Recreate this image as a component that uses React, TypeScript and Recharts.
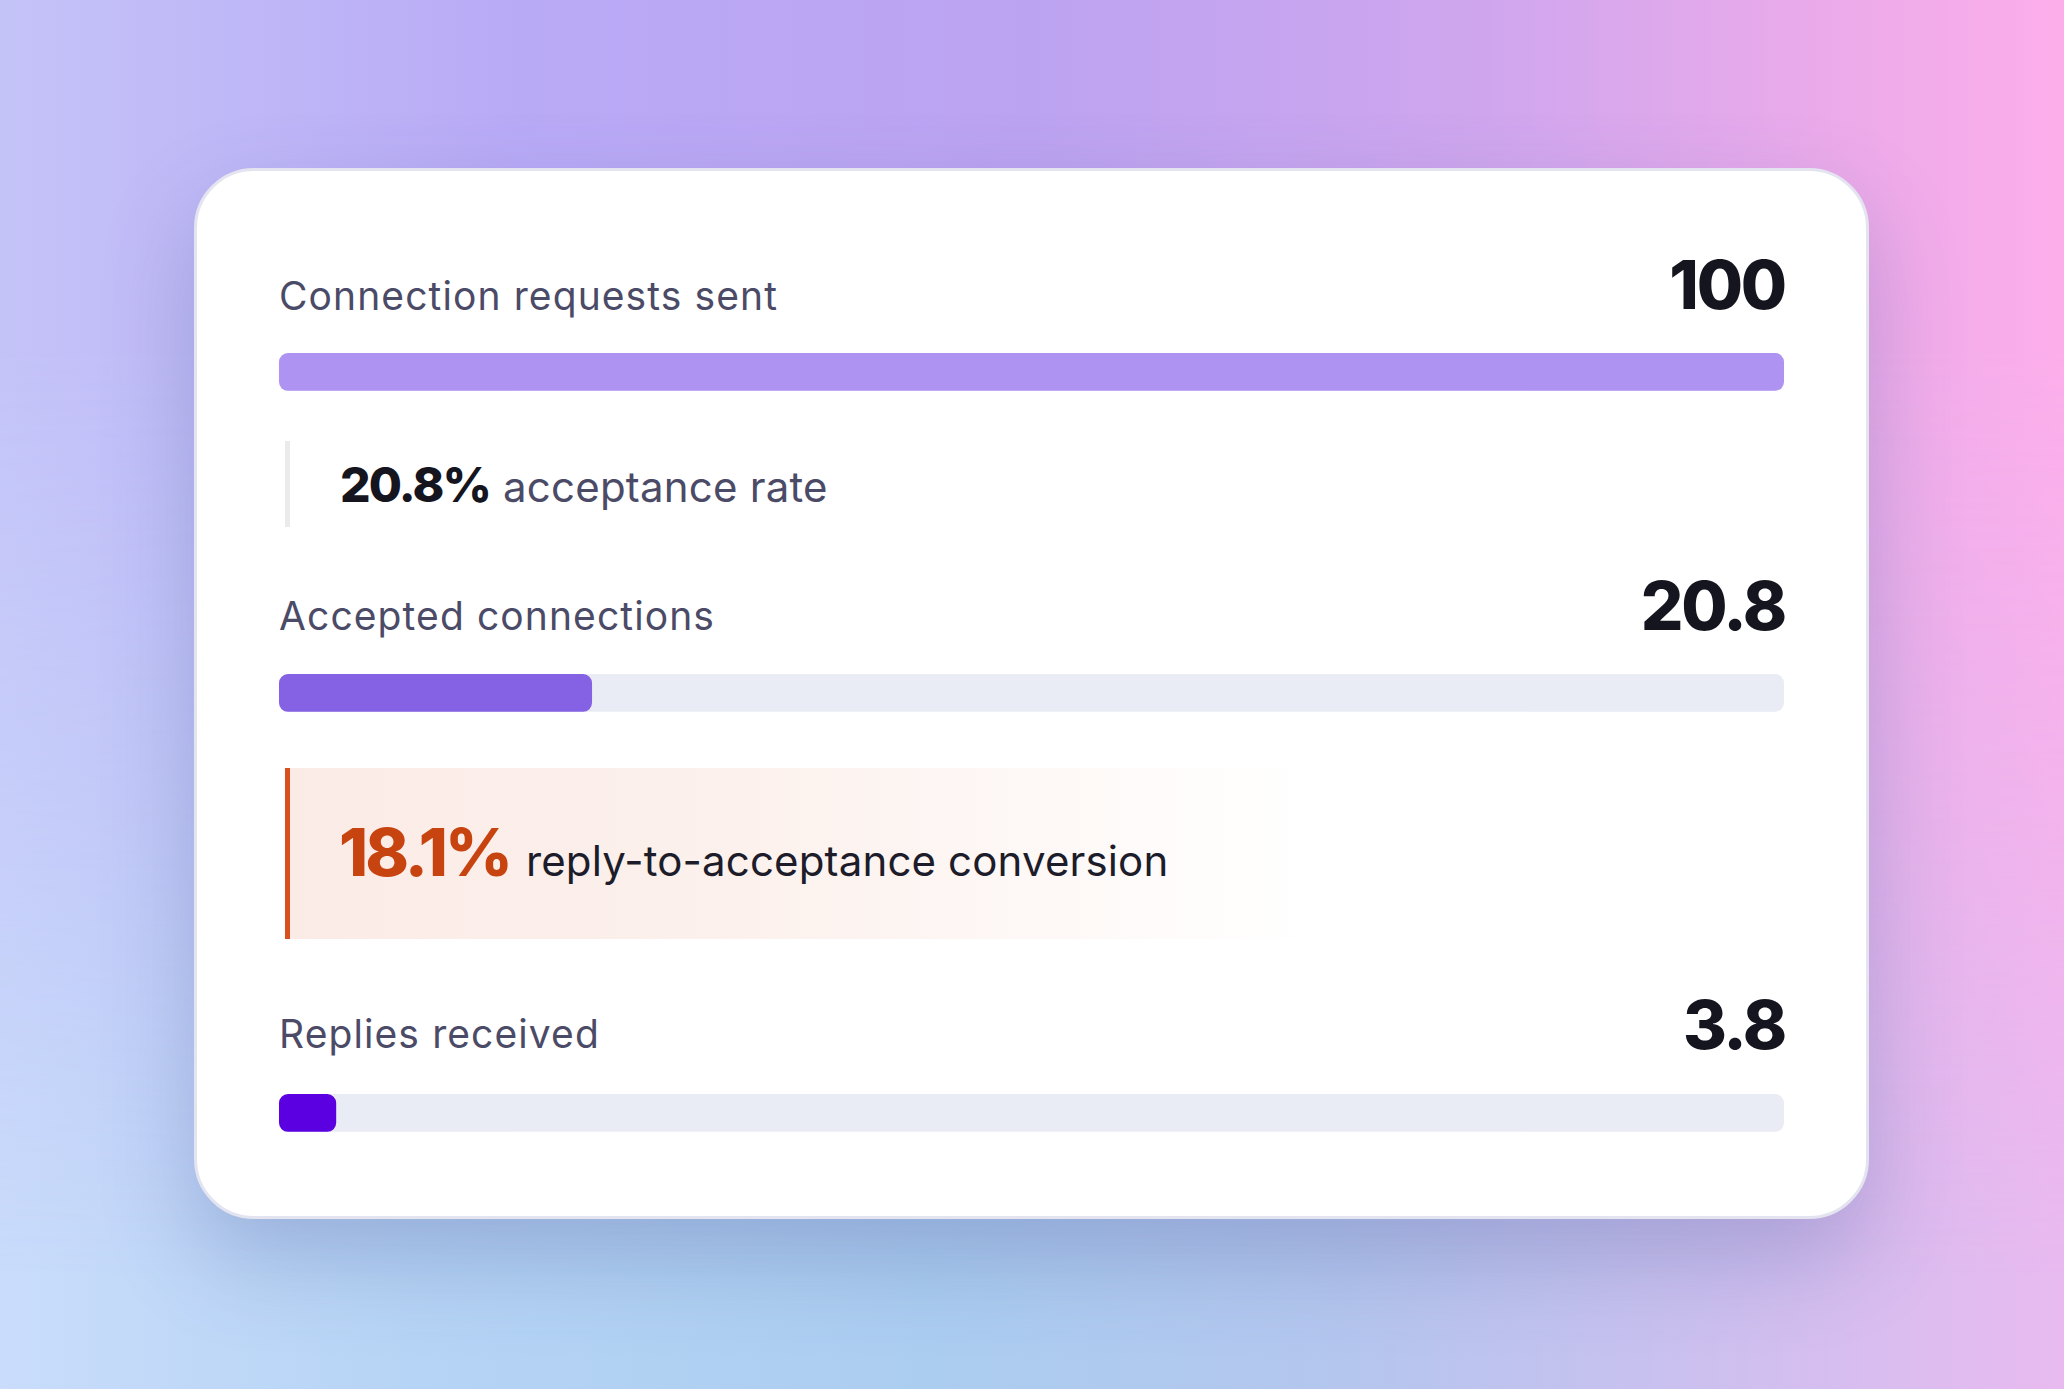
import React from 'react'
import { BarChart, Bar, XAxis, YAxis } from 'recharts'

// funnel stages
const stages = ['Connection requests sent', 'Accepted connections', 'Replies received']
const stageValues = [100, 20.8, 3.8]
const stageValueLabels = ['100', '20.8', '3.8']

// conversion between stages
const rateValues = ['20.8%', '18.1%']
const rateLabels = ['acceptance rate', 'reply-to-acceptance conversion']

const FONT = 'Inter, "Open Sans", sans-serif'
const barColors = ['#ae93f2', '#8562e3', '#5b00e0']
const TRACK = '#eaecf5'

// vertical layout (page px)
const labelTops = [276, 596, 1014]
const valueTops = [251, 572, 991]
const barTops = [351, 672, 1092]

const BAR_LEFT = 279
const BAR_W = 1505
const BAR_H = 42

const StageBar = ({ i }: { i: number }) => {
    const data = [{ name: stages[i], value: stageValues[i] }]
    return (
        <div style={{ position: 'absolute', left: BAR_LEFT, top: barTops[i] }}>
            <BarChart
                width={BAR_W}
                height={BAR_H}
                data={data}
                layout="vertical"
                margin={{ top: 0, right: 0, bottom: 0, left: 0 }}
                barCategoryGap={0}
            >
                <XAxis type="number" domain={[0, 100]} hide />
                <YAxis type="category" dataKey="name" hide />
                <Bar
                    dataKey="value"
                    fill={barColors[i]}
                    barSize={BAR_H}
                    radius={9}
                    background={{ fill: TRACK, radius: 9 }}
                    isAnimationActive={false}
                />
            </BarChart>
        </div>
    )
}

const StageHeader = ({ i }: { i: number }) => (
    <>
        <div style={{
            position: 'absolute', left: BAR_LEFT, top: labelTops[i],
            fontSize: 39, lineHeight: 1, color: '#4b4b67', letterSpacing: 1.1, whiteSpace: 'nowrap'
        }}>
            {stages[i]}
        </div>
        <div style={{
            position: 'absolute', right: 2064 - 1785, top: valueTops[i],
            fontSize: 67, lineHeight: 1, fontWeight: 800, color: '#15151f', textAlign: 'right',
            letterSpacing: -2.2
        }}>
            {stageValueLabels[i]}
        </div>
    </>
)

const App = () => {
    return (
        <div style={{ position: 'fixed', left: 0, top: 0, width: 2064, height: 1389, overflow: 'hidden', fontFamily: FONT }}>
            {/* background */}
            <div style={{
                position: 'absolute', inset: 0,
                background: 'linear-gradient(to right, #c9dcfb 0%, #b6d4f5 20%, #abcdf0 45%, #b4c6ee 65%, #cbc0ef 82%, #e8baf0 100%)'
            }} />
            <div style={{
                position: 'absolute', inset: 0,
                background: 'linear-gradient(to right, #c4c3f8 0%, #b9aaf6 25%, #bca3f1 50%, #cfa6ee 72%, #eaaaea 88%, #fcaeea 100%)',
                WebkitMaskImage: 'linear-gradient(to bottom, #000 0%, #000 25%, rgba(0,0,0,0.55) 60%, transparent 92%)',
                maskImage: 'linear-gradient(to bottom, #000 0%, #000 25%, rgba(0,0,0,0.55) 60%, transparent 92%)'
            }} />

            {/* card */}
            <div style={{
                position: 'absolute', left: 194, top: 168, width: 1675, height: 1051,
                boxSizing: 'border-box', background: '#fff', borderRadius: 60,
                border: '3px solid #e4e4f0',
                boxShadow: '0 40px 90px rgba(70, 90, 150, 0.28)'
            }} />

            {[0, 1, 2].map(i => <StageHeader key={'h' + i} i={i} />)}
            {[0, 1, 2].map(i => <StageBar key={'b' + i} i={i} />)}

            {/* acceptance callout */}
            <div style={{ position: 'absolute', left: 285, top: 441, width: 5, height: 86, background: '#ebebeb' }} />
            <div style={{
                position: 'absolute', left: 340, top: 461, fontSize: 48, lineHeight: 1,
                fontWeight: 800, color: '#15151f', whiteSpace: 'nowrap', letterSpacing: -1.8
            }}>
                {rateValues[0]}
                <span style={{ fontSize: 42, fontWeight: 400, color: '#4b4b67', marginLeft: 13, letterSpacing: 0.2 }}>
                    {rateLabels[0]}
                </span>
            </div>

            {/* reply callout */}
            <div style={{
                position: 'absolute', left: 285, top: 768, width: 1030, height: 171,
                background: 'linear-gradient(to right, #fbebe6 0%, #fcf1ed 45%, rgba(255,255,255,0) 100%)',
                borderLeft: '5px solid #d9501e', boxSizing: 'border-box'
            }} />
            <div style={{
                position: 'absolute', left: 339, top: 819, fontSize: 66, lineHeight: 1,
                fontWeight: 800, color: '#c7430f', whiteSpace: 'nowrap', letterSpacing: -3
            }}>
                {rateValues[1]}
                <span style={{ fontSize: 42, fontWeight: 400, color: '#1c1c2a', marginLeft: 16, letterSpacing: 0.15 }}>
                    {rateLabels[1]}
                </span>
            </div>
        </div>
    )
}

export default App
